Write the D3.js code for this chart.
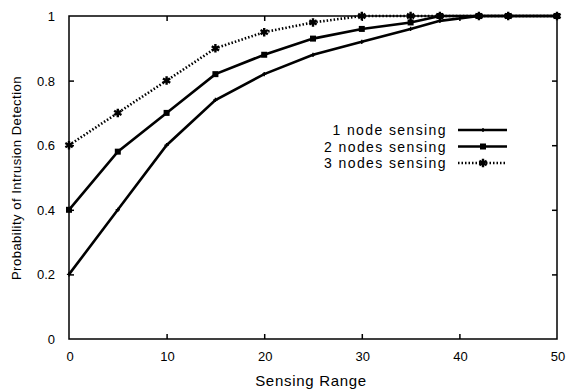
<!DOCTYPE html>
<html>
<head>
<meta charset="utf-8">
<script src="https://cdn.jsdelivr.net/npm/d3@7"></script>
<style>
  body { margin: 0; background: #fff; }
  text { font-family: "Liberation Sans", Arial, sans-serif; fill: #000; }
</style>
</head>
<body>
<svg id="chart" width="568" height="391"></svg>
<script>
const ranges = [0, 5, 10, 15, 20, 25, 30, 35, 38, 42, 45, 50];
const oneNode = [0.2, 0.4, 0.6, 0.74, 0.82, 0.88, 0.92, 0.96, 0.985, 1, 1, 1];
const twoNodes = [0.4, 0.58, 0.7, 0.82, 0.88, 0.93, 0.96, 0.98, 1, 1, 1, 1];
const threeNodes = [0.6, 0.7, 0.8, 0.9, 0.95, 0.98, 1, 1, 1, 1, 1, 1];
const seriesNames = ['1 node sensing', '2 nodes sensing', '3 nodes sensing'];
const xTicks = [0, 10, 20, 30, 40, 50];
const yTicks = [0, 0.2, 0.4, 0.6, 0.8, 1];

const svg = d3.select('#chart'),
  margin = {top: 16, right: 11, bottom: 52, left: 69},
  width = +svg.attr('width') - margin.left - margin.right,
  height = +svg.attr('height') - margin.top - margin.bottom,
  g = svg.append('g').attr('transform', 'translate(' + margin.left + ',' + margin.top + ')');

const x = d3.scaleLinear().domain([0, 50]).range([0, width]);
const y = d3.scaleLinear().domain([0, 1]).range([height, 0]);

// inward ticks on all four sides
const inner = xTicks.slice(1, -1), innerY = yTicks.slice(1, -1);
g.append('g').attr('transform', 'translate(0,' + height + ')')
  .call(d3.axisTop(x).tickValues(inner).tickSize(5).tickFormat(''))
  .call(a => a.select('.domain').remove());
g.append('g')
  .call(d3.axisBottom(x).tickValues(inner).tickSize(5).tickFormat(''))
  .call(a => a.select('.domain').remove());
g.append('g')
  .call(d3.axisRight(y).tickValues(innerY).tickSize(5).tickFormat(''))
  .call(a => a.select('.domain').remove());
g.append('g').attr('transform', 'translate(' + width + ',0)')
  .call(d3.axisLeft(y).tickValues(innerY).tickSize(5).tickFormat(''))
  .call(a => a.select('.domain').remove());
g.selectAll('.tick line').attr('stroke', '#000').attr('stroke-width', 1.5);

// tick labels
g.selectAll('.xlab').data(xTicks).enter().append('text')
  .attr('x', d => x(d) + 1).attr('y', height + 22)
  .attr('text-anchor', 'middle').style('font-size', '13px')
  .text(d => d);
g.selectAll('.ylab').data(yTicks).enter().append('text')
  .attr('x', -14).attr('y', d => y(d) + 5)
  .attr('text-anchor', 'end').style('font-size', '13px')
  .text(d => d);

// frame
g.append('rect').attr('width', width).attr('height', height)
  .attr('fill', 'none').attr('stroke', '#000').attr('stroke-width', 1.5);

// axis titles
svg.append('text')
  .attr('transform', 'translate(21,178) rotate(-90)')
  .attr('text-anchor', 'middle').style('font-size', '13px').style('letter-spacing', '0.5px')
  .text('Probability of Intrusion Detection');
svg.append('text')
  .attr('x', margin.left + width / 2 - 2).attr('y', 386)
  .attr('text-anchor', 'middle').style('font-size', '15px').style('letter-spacing', '0.7px')
  .text('Sensing Range');

const series = [
  {name: seriesNames[0], values: oneNode, dash: null, symbol: d3.symbolCross, size: 10},
  {name: seriesNames[1], values: twoNodes, dash: null, symbol: d3.symbolSquare, size: 36},
  {name: seriesNames[2], values: threeNodes, dash: '1.5,2', symbol: d3.symbolAsterisk, size: 50}
];

const line = d3.line()
  .x(function (d) { return x(d[0]); })
  .y(function (d) { return y(d[1]); });

function marker(sel, s) {
  sel.attr('d', d3.symbol().type(s.symbol).size(s.size))
    .attr('fill', '#000')
    .attr('stroke', s.symbol === d3.symbolAsterisk ? '#000' : 'none')
    .attr('stroke-width', 2.4);
}

series.forEach(function (s) {
  const pts = ranges.map((r, i) => [r, s.values[i]]);
  g.append('path').datum(pts)
    .attr('fill', 'none').attr('stroke', '#000')
    .attr('stroke-width', 2.6)
    .attr('stroke-dasharray', s.dash)
    .attr('d', line);
  g.selectAll(null).data(pts).enter().append('path')
    .attr('transform', d => 'translate(' + x(d[0]) + ',' + y(d[1]) + ')')
    .call(marker, s);
});

// legend
const legend = svg.append('g');
series.forEach(function (s, i) {
  const ly = 130 + i * 16.5;
  legend.append('text')
    .attr('x', 447).attr('y', ly + 5)
    .attr('text-anchor', 'end').style('font-size', '14px').style('letter-spacing', '1.4px')
    .text(s.name);
  legend.append('line')
    .attr('x1', 458).attr('x2', 507).attr('y1', ly).attr('y2', ly)
    .attr('stroke', '#000').attr('stroke-width', 2.6)
    .attr('stroke-dasharray', s.dash);
  legend.append('path')
    .attr('transform', 'translate(483,' + ly + ')')
    .call(marker, s);
});
</script>
</body>
</html>
